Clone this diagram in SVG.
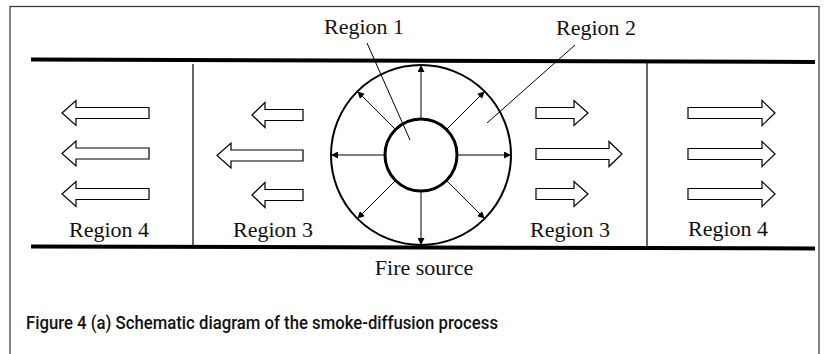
<svg xmlns="http://www.w3.org/2000/svg" width="829" height="354" viewBox="0 0 829 354">
<style>
.lbl{font-family:"Liberation Serif","Times New Roman",serif;font-size:22px;fill:#111;text-anchor:middle}
.cap{font-family:Roboto,"Liberation Sans",sans-serif;font-size:19px;font-weight:500;fill:#111}
.wall{stroke:#000;stroke-width:4;fill:none}
.div{stroke:#000;stroke-width:1.2;fill:none}
.blk{fill:#fff;stroke:#000;stroke-width:1.2;stroke-linejoin:miter}
.rad{stroke:#000;stroke-width:1;fill:none;marker-end:url(#ah)}
.lead{stroke:#000;stroke-width:1;fill:none}
</style>
<defs>
<marker id="ah" viewBox="0 0 10 10" refX="10" refY="5" markerWidth="8" markerHeight="7" markerUnits="userSpaceOnUse" orient="auto">
<path d="M0,0 L10,5 L0,10 z" fill="#000"/>
</marker>
</defs>
<rect x="0" y="0" width="829" height="354" fill="#fff"/>
<rect x="10" y="6.5" width="809" height="400" fill="none" stroke="#333" stroke-width="1.2"/>
<g id="walls">
<line class="wall" x1="31" y1="59.5" x2="815" y2="62"/>
<line class="wall" x1="31" y1="246.5" x2="815" y2="248.5"/>
<line class="div" x1="193" y1="64" x2="193" y2="247"/>
<line class="div" x1="647" y1="63" x2="647" y2="248"/>
</g>
<g id="region2">
<circle cx="421" cy="155" r="90" fill="none" stroke="#000" stroke-width="2"/>
</g>
<g id="region1">
<circle cx="421" cy="155" r="36" fill="none" stroke="#000" stroke-width="3"/>
</g>
<g id="connectors">
<line class="rad" x1="421" y1="119" x2="421" y2="65"/>
<line class="rad" x1="421" y1="191" x2="421" y2="245"/>
<line class="rad" x1="385" y1="155" x2="331" y2="155"/>
<line class="rad" x1="457" y1="155" x2="511" y2="155"/>
<line class="rad" x1="446.5" y1="129.5" x2="484.6" y2="91.4"/>
<line class="rad" x1="395.5" y1="129.5" x2="357.4" y2="91.4"/>
<line class="rad" x1="446.5" y1="180.5" x2="484.6" y2="218.6"/>
<line class="rad" x1="395.5" y1="180.5" x2="357.4" y2="218.6"/>
<line class="lead" x1="367" y1="43" x2="410" y2="140"/>
<line class="lead" x1="575" y1="45" x2="487" y2="123"/>
</g>
<g id="region4-left">
<path class="blk" d="M62,113 L76,100.5 L76,107.5 L149,107.5 L149,118.5 L76,118.5 L76,125.5 Z"/>
<path class="blk" d="M62,153.5 L76,141 L76,148 L149,148 L149,159 L76,159 L76,166 Z"/>
<path class="blk" d="M62,194 L76,181.5 L76,188.5 L149,188.5 L149,199.5 L76,199.5 L76,206.5 Z"/>
<text class="lbl" x="109" y="237">Region 4</text>
</g>
<g id="region3-left">
<path class="blk" d="M252,115 L265,102.5 L265,109.5 L303,109.5 L303,120.5 L265,120.5 L265,127.5 Z"/>
<path class="blk" d="M217,155.5 L231,143 L231,150 L303,150 L303,161 L231,161 L231,168 Z"/>
<path class="blk" d="M252,195 L265,182.5 L265,189.5 L303,189.5 L303,200.5 L265,200.5 L265,207.5 Z"/>
<text class="lbl" x="273" y="237">Region 3</text>
</g>
<g id="region3-right">
<path class="blk" d="M588,113 L574,100.5 L574,107.5 L536,107.5 L536,118.5 L574,118.5 L574,125.5 Z"/>
<path class="blk" d="M622,154 L609,141.5 L609,148.5 L536,148.5 L536,159.5 L609,159.5 L609,166.5 Z"/>
<path class="blk" d="M588,194 L574,181.5 L574,188.5 L536,188.5 L536,199.5 L574,199.5 L574,206.5 Z"/>
<text class="lbl" x="570" y="237">Region 3</text>
</g>
<g id="region4-right">
<path class="blk" d="M775,113 L762,100.5 L762,107.5 L688,107.5 L688,118.5 L762,118.5 L762,125.5 Z"/>
<path class="blk" d="M775,154 L762,141.5 L762,148.5 L688,148.5 L688,159.5 L762,159.5 L762,166.5 Z"/>
<path class="blk" d="M775,194 L762,181.5 L762,188.5 L688,188.5 L688,199.5 L762,199.5 L762,206.5 Z"/>
<text class="lbl" x="728" y="236">Region 4</text>
</g>
<g id="labels">
<text class="lbl" x="364" y="34">Region 1</text>
<text class="lbl" x="596" y="35">Region 2</text>
<text class="lbl" x="424" y="275">Fire source</text>
</g>
<g id="caption">
<text class="cap" x="26" y="329" textLength="472" lengthAdjust="spacingAndGlyphs">Figure 4 (a) Schematic diagram of the smoke-diffusion process</text>
</g>
</svg>
